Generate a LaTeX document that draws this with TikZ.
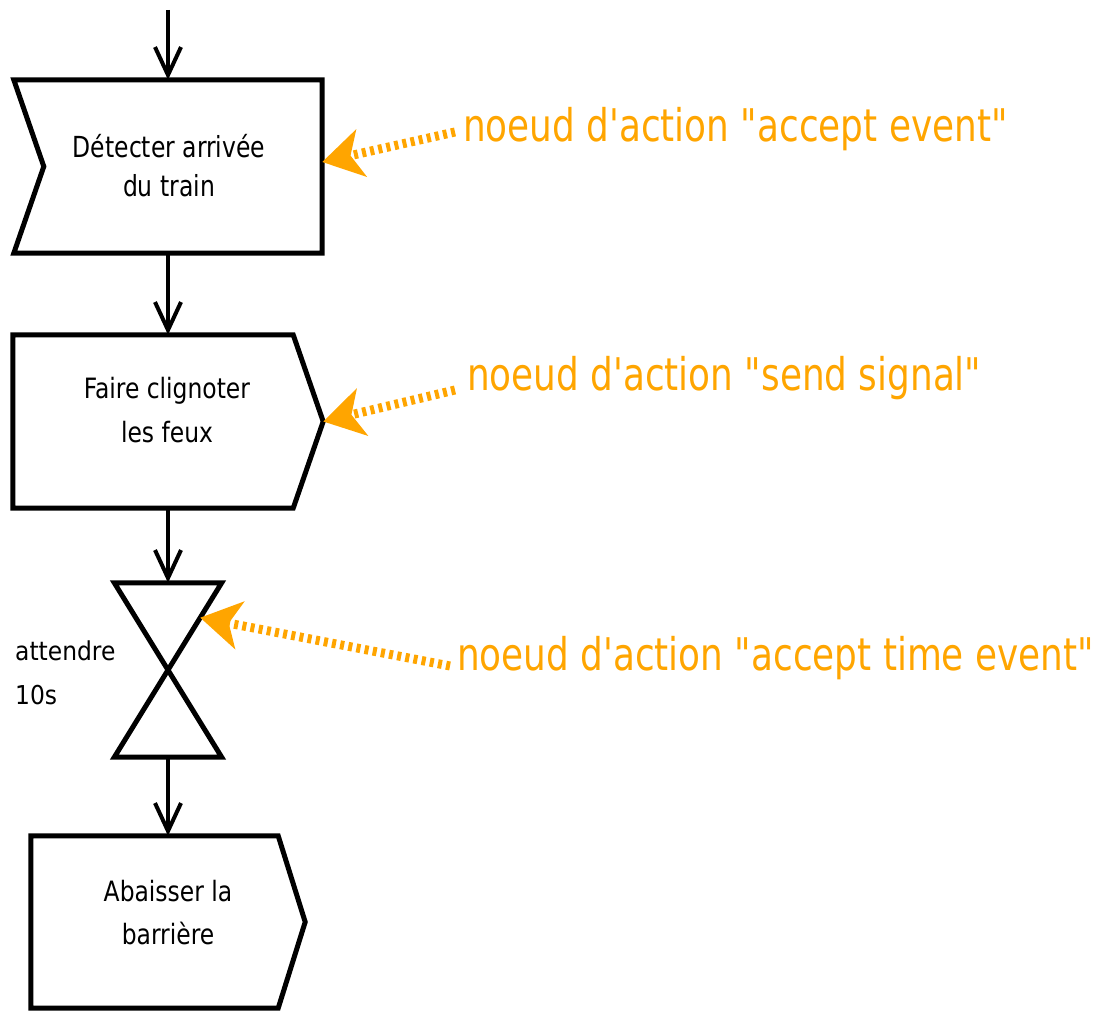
\documentclass[tikz,border=0pt]{standalone}
\usepackage{fontspec}
\newfontfamily\dvc{DejaVu Sans Condensed}
\newfontfamily\dvcbig{DejaVu Sans Condensed}[FakeStretch=0.9]
\newfontfamily\dvcmid{DejaVu Sans Condensed}[FakeStretch=0.93]
\newfontfamily\dvclbl{DejaVu Sans Condensed}[FakeStretch=0.885]
\usetikzlibrary{arrows.meta,calc}
\definecolor{umlorange}{RGB}{255,165,0}
\begin{document}
\begin{tikzpicture}[x=1pt,y=-1pt,
  holder/.style={draw=none, inner sep=0pt, align=center},
  boxtext/.style={inner sep=0pt, align=center, font=\dvcmid\fontsize{28}{43.5}\selectfont},
  outline/.style={draw=black, line width=5pt, line join=miter, fill=white},
  flow/.style={draw=black, line width=4pt, -{Straight Barb[length=28pt,width=26pt,line width=4pt]}},
  hint/.style={draw=umlorange, line width=9pt, dash pattern=on 4pt off 4.3pt,
    -{Stealth[length=40pt,width=48pt,inset=11pt,fill=umlorange]}},
  lbl/.style={text=umlorange, inner sep=0pt, font=\dvclbl\fontsize{45}{54}\selectfont},
  side/.style={inner sep=0pt, align=left, font=\dvc\fontsize{26}{43.3}\selectfont}]
\useasboundingbox (0,0) rectangle (1101,1011);

% shape holders
\node[holder, minimum width=308pt, minimum height=173pt] (b1) at (168,166.5) {};
\node[holder, minimum width=310pt, minimum height=173pt] (b2) at (168,421.5) {};
\node[holder, minimum width=107pt, minimum height=174pt] (hg) at (168,670) {};
\node[holder, minimum width=274pt, minimum height=172pt] (b4) at (168,922) {};

% outlines
\draw[outline] (b1.north west) -- (b1.north east) -- (b1.south east) -- (b1.south west)
  -- ($(b1.west)+(30,0)$) -- cycle;
\draw[outline] (b2.north west) -- ($(b2.north east)+(-30,0)$) -- (b2.east)
  -- ($(b2.south east)+(-30,0)$) -- (b2.south west) -- cycle;
\draw[outline] (hg.north west) -- (hg.north east) -- (hg.south west) -- (hg.south east) -- cycle;
\draw[outline] (b4.north west) -- ($(b4.north east)+(-27,0)$) -- (b4.east)
  -- ($(b4.south east)+(-27,0)$) -- (b4.south west) -- cycle;

% texts
\node[boxtext, font=\dvcbig\fontsize{29}{39.5}\selectfont] (t1) at (169,165.8) {Détecter arrivée\\du train};
\node[boxtext, font=\dvcmid\fontsize{28}{44}\selectfont] (t2) at (167,410.4) {Faire clignoter\\les feux};
\node[boxtext, font=\dvcmid\fontsize{28}{43}\selectfont] (t4) at (168,912.9) {Abaisser la\\barrière};
\node[side, anchor=west] (wait) at (15,672.7) {attendre\\10s};

% flow arrows
\coordinate (start) at (168,10);
\draw[flow] (start) -- (b1.north);
\draw[flow] (b1.south) -- (b2.north);
\draw[flow] (b2.south) -- (hg.north);
\draw[flow] (hg.south) -- (b4.north);

% annotations
\node[lbl, anchor=base west] (l1) at (463,141.7) {noeud d'action "accept event"};
\node[lbl, anchor=base west] (l2) at (467,390) {noeud d'action "send signal"};
\node[lbl, anchor=base west] (l3) at (457,670) {noeud d'action "accept time event"};

\coordinate (s1) at (455,132);
\coordinate (s2) at (455,390);
\coordinate (s3) at (450,666);
\draw[hint] (s1) -- ($(b1.east)+(0,-4.5)$);
\draw[hint] (s2) -- (b2.east);
\draw[hint] (s3) -- ($(hg.north east)!0.4!(hg.center)$);
\end{tikzpicture}
\end{document}
